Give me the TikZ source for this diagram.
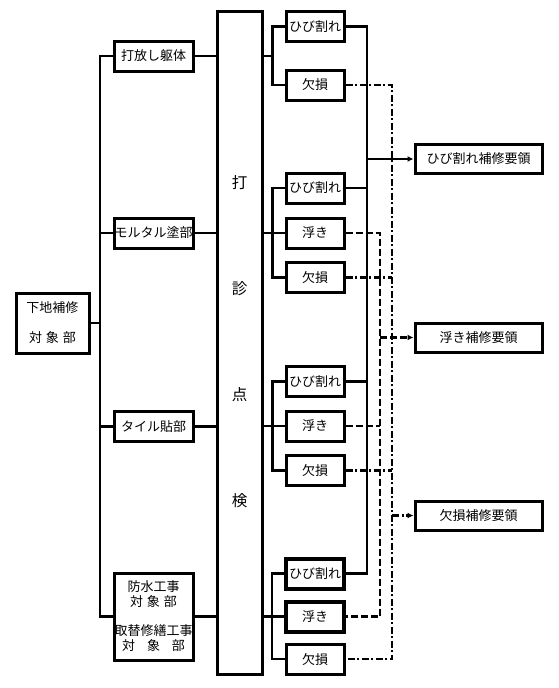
\documentclass[tikz,border=0pt]{standalone}
\usepackage{fontspec}
\setmainfont{Noto Sans CJK JP}
\usetikzlibrary{arrows.meta}
\begin{document}
\begin{tikzpicture}[x=1pt,y=-1pt,
  every node/.style={font=\fontsize{13}{15}\selectfont, inner sep=0pt},
  box/.style={draw, line width=3pt, minimum height=30pt, align=center, fill=white},
  lv2/.style={box, minimum width=79pt},
  lv3/.style={box, minimum width=58pt},
  lv3t/.style={lv3, line width=4pt},
  res/.style={box, minimum width=127pt, minimum height=29pt},
  ln/.style={line width=2.8pt},
  dsh/.style={line width=2.8pt, dash pattern=on 7pt off 3pt},
  dshdot/.style={line width=2.8pt, dash pattern=on 7pt off 2.5pt on 2pt off 2.5pt},
  arr/.style={line width=2.4pt, -{Latex[length=6pt,width=6pt]}},
  colchar/.style={font=\fontsize{15.5}{15.5}\selectfont}
]
\useasboundingbox (0,0) rectangle (558,688);
% coordinates for vertical bus lines
\coordinate (tr) at (100,0);
\coordinate (sv) at (367,0);
\coordinate (dv) at (380,0);
\coordinate (ddv) at (392,0);

% left box
\node[box, minimum width=73pt, minimum height=60pt, font=\fontsize{13}{30}\selectfont] (L) at (52.5,323) {下地補修\\対\hspace{4pt}象\hspace{4pt}部};

% level 2
\node[lv2] (B1) at (153.5,56) {打放し躯体};
\node[lv2] (B2) at (153.5,233) {モルタル塗部};
\node[lv2] (B3) at (153.5,426.5) {タイル貼部};
\node[box, minimum width=79pt, minimum height=87pt] (B4) at (153.5,616.5) {防水工事\\対\hspace{4pt}象\hspace{4pt}部\\[14pt]取替修繕工事\\対\hspace{12pt}象\hspace{12pt}部};

% column
\node[draw, line width=3pt, minimum width=45pt, minimum height=663pt] (C) at (239.5,342.5) {};
\node[colchar] (c1) at (239.5,183) {打};
\node[colchar] (c2) at (239.5,289) {診};
\node[colchar] (c3) at (239.5,395) {点};
\node[colchar] (c4) at (239.5,501) {検};

% level 3
\node[lv3] (g1a) at (315,26.5) {ひび割れ};
\node[lv3] (g1c) at (315,85) {欠損};
\node[lv3] (g2a) at (315,188) {ひび割れ};
\node[lv3] (g2b) at (315,233) {浮き};
\node[lv3] (g2c) at (315,277.5) {欠損};
\node[lv3] (g3a) at (315,381.5) {ひび割れ};
\node[lv3] (g3b) at (315,426) {浮き};
\node[lv3] (g3c) at (315,470.5) {欠損};
\node[lv3t] (g4a) at (315,573.5) {ひび割れ};
\node[lv3t] (g4b) at (315,616.5) {浮き};
\node[lv3] (g4c) at (315,659) {欠損};

% results
\node[res] (R1) at (478.5,159) {ひび割れ補修要領};
\node[res] (R2) at (478.5,337.5) {浮き補修要領};
\node[res] (R3) at (478.5,515.5) {欠損補修要領};

% trunk on left
\draw[ln] (B1.west) -| (B4.west -| tr) -- (B4.west);
\draw[ln] (B2.west) -- (B2.west -| tr);
\draw[ln] (B3.west) -- (B3.west -| tr);
\draw[ln] (L.east) -- (L.east -| tr);

% level 2 to column
\draw[ln] (B1.east) -- (B1.east -| C.west);
\draw[ln] (B2.east) -- (B2.east -| C.west);
\draw[ln] (B3.east) -- (B3.east -| C.west);
\draw[ln] (B4.east) -- (B4.east -| C.west);

% column to level 3 branches
\draw[ln] (g1a.west) -- ++(-12,0) |- (g1c.west);
\draw[ln] (C.east |- B1.east) -- ([xshift=-12pt]g1a.west |- B1.east);
\draw[ln] (g2a.west) -- ++(-12,0) |- (g2c.west);
\draw[ln] (C.east |- g2b.west) -- (g2b.west);
\draw[ln] (g3a.west) -- ++(-12,0) |- (g3c.west);
\draw[ln] (C.east |- g3b.west) -- (g3b.west);
\draw[ln] (g4a.west) -- ++(-12,0) |- (g4c.west);
\draw[ln] (C.east |- g4b.west) -- (g4b.west);

% cracks collector (solid)
\draw[ln] (g1a.east) -| (g4a.east -| sv) -- (g4a.east);
\draw[ln] (g2a.east) -- (g2a.east -| sv);
\draw[ln] (g3a.east) -- (g3a.east -| sv);
\draw[arr] (sv |- R1.west) -- (R1.west);

% lifting collector (dashed)
\draw[dsh] (g2b.east) -| (g4b.east -| dv) -- (g4b.east);
\draw[dsh] (g3b.east) -- (g3b.east -| dv);
\draw[arr, dash pattern=on 7pt off 3pt] (dv |- R2.west) -- (R2.west);

% loss collector (dash-dot)
\draw[dshdot] (g1c.east) -| (g4c.east -| ddv) -- (g4c.east);
\draw[dshdot] (g2c.east) -- (g2c.east -| ddv);
\draw[dshdot] (g3c.east) -- (g3c.east -| ddv);
\draw[arr, dash pattern=on 7pt off 2.5pt on 2pt off 2.5pt] (ddv |- R3.west) -- (R3.west);
\end{tikzpicture}
\end{document}
